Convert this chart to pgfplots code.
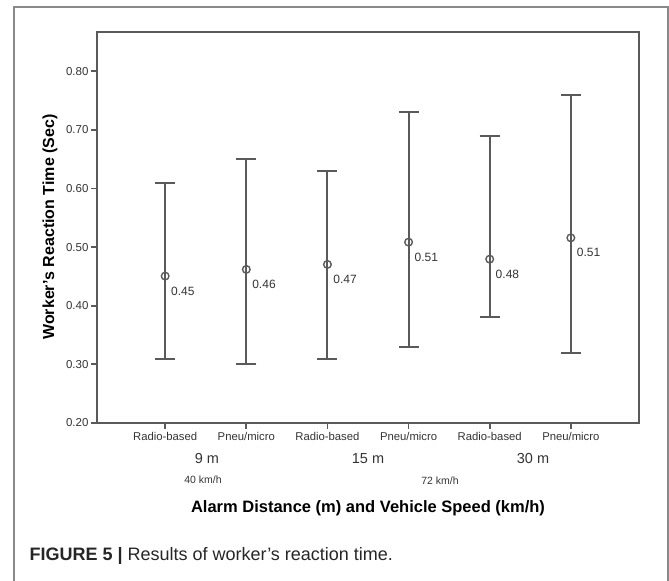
\documentclass[border=0pt]{standalone}
\usepackage{pgfplots}
\pgfplotsset{compat=1.18}
\usepackage{pgfplotstable}
\usepackage{fontspec}
\setmainfont{Liberation Sans}
\definecolor{ax}{HTML}{5A5A5A}
\definecolor{txt}{HTML}{333333}
\definecolor{framec}{HTML}{8A8A8A}

\pgfplotstableread{
x mean lo hi lab
1 0.4506 0.31 0.61 0.45
2 0.462 0.30 0.65 0.46
3 0.4705 0.31 0.63 0.47
4 0.5085 0.33 0.73 0.51
5 0.4795 0.38 0.69 0.48
6 0.5158 0.32 0.76 0.51
}\datatable

\begin{document}
\begin{tikzpicture}[x=1bp,y=1bp]
\useasboundingbox (0,0) rectangle (669,581);
\draw[framec, line width=1.5bp] (14,0) -- (14,574) -- (668,574) -- (668,0);
\begin{axis}[
  at={(97bp,158bp)}, anchor=south west,
  scale only axis, width=542bp, height=391bp,
  xmin=0.16, xmax=6.84, ymin=0.2, ymax=0.867,
  axis line style={ax, line width=2bp},
  tick style={ax, line width=1.8bp},
  tick align=outside, major tick length=6bp,
  xtick pos=bottom, ytick pos=left,
  xtick={1,2,3,4,5,6},
  xticklabels={Radio-based,Pneu/micro,Radio-based,Pneu/micro,Radio-based,Pneu/micro},
  ytick={0.2,0.3,0.4,0.5,0.6,0.7,0.8},
  yticklabel style={font=\fontsize{11.5bp}{13bp}\selectfont, text=txt, xshift=1bp,
    /pgf/number format/fixed, /pgf/number format/fixed zerofill,
    /pgf/number format/precision=2, /pgf/number format/assume math mode=true},
  xticklabel style={font=\fontsize{11.3bp}{13bp}\selectfont, text=txt},
  clip=false,
]
\addplot[ax, draw=none, mark=none,
  error bars/.cd, y dir=both, y explicit,
  error bar style={ax, line width=2bp},
  error mark options={ax, line width=2bp, rotate=90, mark size=10bp}]
  table[x=x, y=mean,
        y error plus expr=\thisrow{hi}-\thisrow{mean},
        y error minus expr=\thisrow{mean}-\thisrow{lo}] {\datatable};
\addplot[only marks, mark=o, mark size=3.8bp, ax, line width=1.4bp,
  mark options={fill=white},
  nodes near coords, point meta=explicit symbolic,
  every node near coord/.append style={anchor=west, xshift=2bp, yshift=-15bp,
     font=\fontsize{12bp}{14bp}\selectfont, text=txt}]
  table[x=x, y=mean, meta=lab] {\datatable};
\end{axis}
\node[font=\fontsize{14.5bp}{16bp}\selectfont, text=txt] at (207,122) {9 m};
\node[font=\fontsize{14.5bp}{16bp}\selectfont, text=txt] at (368,122) {15 m};
\node[font=\fontsize{14.5bp}{16bp}\selectfont, text=txt] at (533,122) {30 m};
\node[font=\fontsize{10.5bp}{12bp}\selectfont, text=txt] at (203,101) {40 km/h};
\node[font=\fontsize{10.5bp}{12bp}\selectfont, text=txt] at (440,100) {72 km/h};
\node[font=\bfseries\fontsize{16.5bp}{18bp}\selectfont] at (368,73) {Alarm Distance (m) and Vehicle Speed (km/h)};
\node[font=\bfseries\fontsize{16bp}{18bp}\selectfont, rotate=90] at (50,354) {Worker's Reaction Time (Sec)};
\node[anchor=west, font=\fontsize{18bp}{20bp}\selectfont, text=black!85] at (26,25) {\textbf{FIGURE 5 |} Results of worker’s reaction time.};
\end{tikzpicture}
\end{document}
